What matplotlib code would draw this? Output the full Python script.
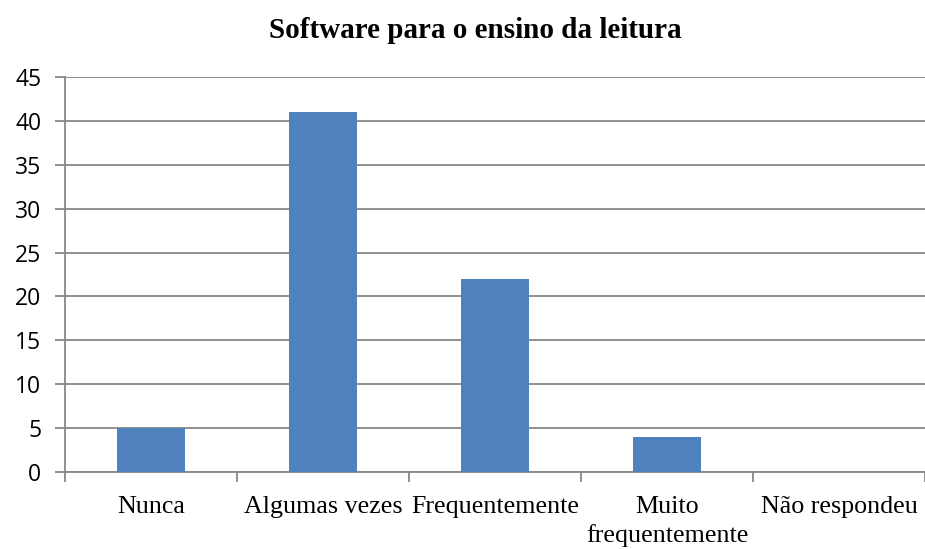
import matplotlib.pyplot as plt
import numpy as np

categorias = ['Nunca', 'Algumas vezes', 'Frequentemente', 'Muito\nfrequentemente', 'Não respondeu']
valores = [5, 41, 22, 4, 0]
yticks = [0, 5, 10, 15, 20, 25, 30, 35, 40, 45]

cor_barra = '#4F81BD'
cor_eixo = '#878787'

fig = plt.figure(figsize=(9.25, 5.49), dpi=100)
ax = fig.add_axes([65 / 925, 1 - 472 / 549, 860 / 925, 395 / 549])

x = np.arange(len(categorias))
ax.bar(x, valores, width=0.4, color=cor_barra, zorder=3)

ax.set_xlim(-0.5, len(categorias) - 0.5)
ax.set_ylim(0, 45)
ax.set_yticks(yticks)
ax.yaxis.grid(True, color=cor_eixo, linewidth=1.3, zorder=0)

# rotulos no centro, marcas nas fronteiras
ax.set_xticks(x)
ax.set_xticklabels(categorias, family='Liberation Serif', fontsize=18.7, linespacing=1.35)
ax.set_xticks(np.arange(-0.5, len(categorias), 1), minor=True)
ax.tick_params(axis='x', which='major', length=0, pad=17)
ax.tick_params(axis='x', which='minor', length=7, width=1.3, color=cor_eixo, direction='out')
ax.tick_params(axis='y', length=7, width=1.3, color=cor_eixo, pad=10)
for lab in ax.get_yticklabels():
    lab.set_family('Open Sans')
    lab.set_fontsize(16.5)

for s in ['top', 'right']:
    ax.spines[s].set_visible(False)
for s in ['left', 'bottom']:
    ax.spines[s].set_color(cor_eixo)
    ax.spines[s].set_linewidth(1.3)

fig.text(475 / 925, 1 - 30 / 549, 'Software para o ensino da leitura',
         family='Liberation Serif', fontweight='bold', fontsize=21,
         ha='center', va='center')

fig.savefig('out.png', dpi=100, facecolor='white')
